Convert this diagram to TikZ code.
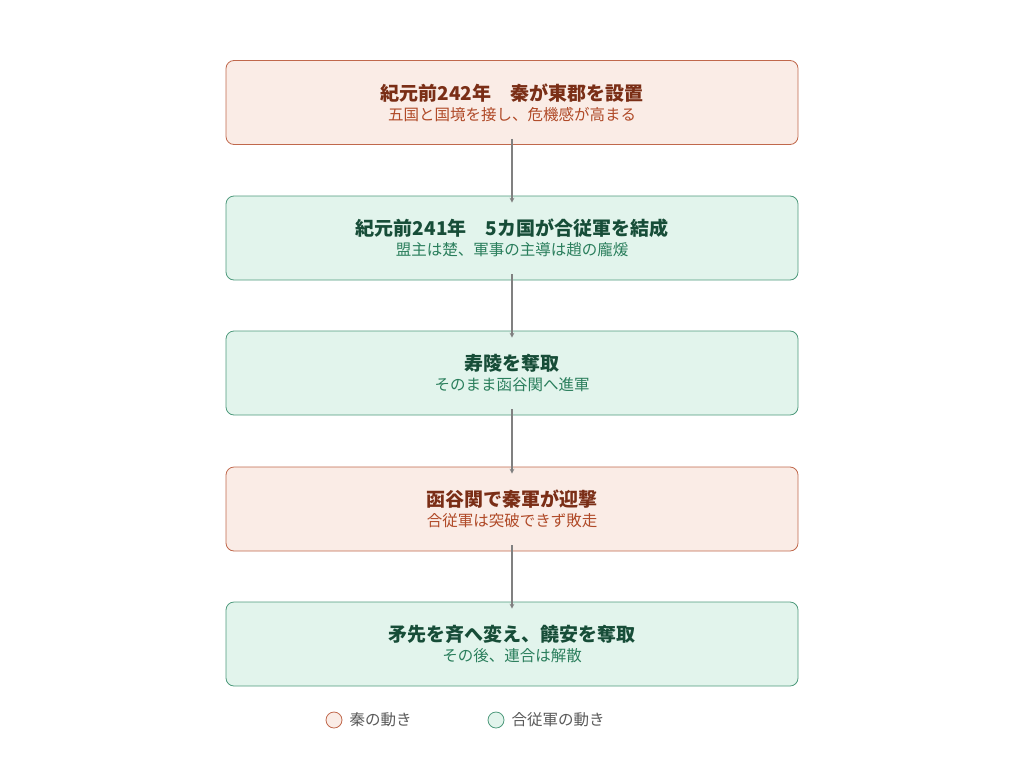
\documentclass[tikz,border=0pt]{standalone}
\usepackage{fontspec}
\setmainfont{Noto Sans CJK JP}
\usetikzlibrary{positioning}
\definecolor{qinfill}{HTML}{FAECE6}
\definecolor{qindraw}{HTML}{C0684C}
\definecolor{qintitle}{HTML}{7A2E16}
\definecolor{qintext}{HTML}{B04A28}
\definecolor{allyfill}{HTML}{E2F4EC}
\definecolor{allydraw}{HTML}{4E9A7C}
\definecolor{allytitle}{HTML}{174D38}
\definecolor{allytext}{HTML}{2A7E5C}
\tikzset{
  stagebox/.style={rectangle,rounded corners=8pt,minimum width=572pt,minimum height=84pt,line width=0.8pt,align=center},
  qin/.style={stagebox,fill=qinfill,draw=qindraw},
  ally/.style={stagebox,fill=allyfill,draw=allydraw},
  flow/.style={->,>=stealth,draw=black!50,line width=1.1pt,shorten >=1pt},
  keydot/.style={circle,minimum size=16pt,inner sep=0pt,line width=0.8pt}
}
\begin{document}
\begin{tikzpicture}[x=1pt,y=-1pt,inner sep=0.4mm]
\useasboundingbox (0,0) rectangle (1024,768);
\node[qin]  (s1) at (512,102.5) {{\color{qintitle}\fontsize{19}{24}\selectfont\bfseries 紀元前242年　秦が東郡を設置}\\[4pt]{\color{qintext}\fontsize{15.5}{20}\selectfont 五国と国境を接し、危機感が高まる}};
\node[ally] (s2) at (512,238) {{\color{allytitle}\fontsize{19}{24}\selectfont\bfseries 紀元前241年　5カ国が合従軍を結成}\\[4pt]{\color{allytext}\fontsize{15.5}{20}\selectfont 盟主は楚、軍事の主導は趙の龐煖}};
\node[ally] (s3) at (512,373) {{\color{allytitle}\fontsize{19}{24}\selectfont\bfseries 寿陵を奪取}\\[4pt]{\color{allytext}\fontsize{15.5}{20}\selectfont そのまま函谷関へ進軍}};
\node[qin]  (s4) at (512,509) {{\color{qintitle}\fontsize{19}{24}\selectfont\bfseries 函谷関で秦軍が迎撃}\\[4pt]{\color{qintext}\fontsize{15.5}{20}\selectfont 合従軍は突破できず敗走}};
\node[ally] (s5) at (512,644) {{\color{allytitle}\fontsize{19}{24}\selectfont\bfseries 矛先を斉へ変え、饒安を奪取}\\[4pt]{\color{allytext}\fontsize{15.5}{20}\selectfont その後、連合は解散}};
% arrows between stages
\foreach \a/\b in {s1/s2,s2/s3,s3/s4,s4/s5}
  \draw[flow] ([yshift=6pt]\a.south) -- ([yshift=-8pt]\b.north);
% legend
\node[keydot,fill=qinfill,draw=qindraw] (k1) at (334,720) {};
\node[right=6pt of k1,font=\fontsize{15.5}{20}\selectfont,text=black!65] (k1t) {秦の動き};
\node[keydot,fill=allyfill,draw=allydraw] (k2) at (496,720) {};
\node[right=6pt of k2,font=\fontsize{15.5}{20}\selectfont,text=black!65] (k2t) {合従軍の動き};
\end{tikzpicture}
\end{document}
